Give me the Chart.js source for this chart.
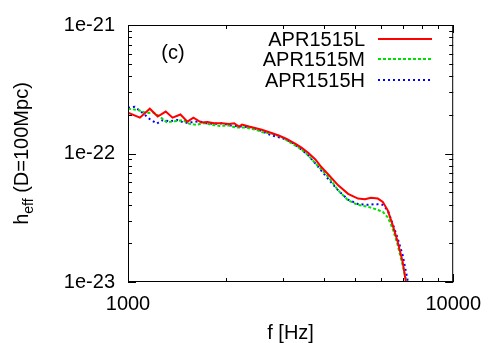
<!DOCTYPE html>
<html>
<head>
<meta charset="utf-8">
<script src="https://cdn.jsdelivr.net/npm/chart.js@4.4.0/dist/chart.umd.min.js"></script>
<style>
  html, body { margin: 0; padding: 0; background: #fff; }
</style>
</head>
<body>
<canvas id="myChart" width="491" height="343"></canvas>
<script>
// Data (f in Hz, h_eff at D=100Mpc)
const freqL = [1000, 1088, 1167, 1234, 1306, 1371, 1450, 1523, 1589, 1681, 1754, 1842, 1948, 2046, 2120, 2195, 2242, 2355, 2580, 2748, 2907, 3075, 3275, 3416, 3588, 3769, 3931, 4130, 4430, 4752, 5097, 5354, 5585, 5866, 6075, 6292, 6516, 6749, 6990, 7139, 7190];
const hL = [2.08e-22, 1.90e-22, 2.23e-22, 1.94e-22, 2.12e-22, 1.90e-22, 2.01e-22, 1.77e-22, 1.90e-22, 1.74e-22, 1.76e-22, 1.72e-22, 1.72e-22, 1.70e-22, 1.72e-22, 1.62e-22, 1.68e-22, 1.62e-22, 1.53e-22, 1.45e-22, 1.38e-22, 1.30e-22, 1.19e-22, 1.11e-22, 1.01e-22, 8.98e-23, 7.85e-23, 6.87e-23, 5.65e-23, 4.85e-23, 4.46e-23, 4.40e-23, 4.53e-23, 4.46e-23, 4.20e-23, 3.61e-23, 2.77e-23, 2.06e-23, 1.44e-23, 1.04e-23, 9.4e-24];

const freqM = [1000, 1073, 1143, 1192, 1252, 1315, 1391, 1472, 1545, 1623, 1717, 1816, 1908, 2046, 2149, 2305, 2474, 2580, 2768, 2969, 3184, 3393, 3588, 3796, 4045, 4188, 4430, 4752, 5097, 5469, 5784, 6075, 6292, 6516, 6749, 6990, 7139, 7190];
const hM = [2.23e-22, 2.18e-22, 2.06e-22, 2.09e-22, 1.94e-22, 1.75e-22, 1.78e-22, 1.82e-22, 1.70e-22, 1.67e-22, 1.73e-22, 1.67e-22, 1.64e-22, 1.65e-22, 1.59e-22, 1.59e-22, 1.53e-22, 1.47e-22, 1.43e-22, 1.34e-22, 1.20e-22, 1.09e-22, 9.65e-23, 8.22e-23, 6.98e-23, 6.27e-23, 5.16e-23, 4.32e-23, 3.98e-23, 3.85e-23, 3.68e-23, 3.52e-23, 3.18e-23, 2.60e-23, 1.94e-23, 1.35e-23, 1.07e-23, 9.6e-24];

const freqH = [1000, 1050, 1103, 1167, 1226, 1279, 1343, 1420, 1492, 1567, 1658, 1741, 1842, 1948, 2075, 2226, 2405, 2580, 2768, 2969, 3162, 3345, 3588, 3849, 4073, 4430, 4752, 5097, 5469, 5784, 6075, 6292, 6516, 6749, 6990, 7240, 7342];
const hH = [2.27e-22, 2.31e-22, 2.09e-22, 1.85e-22, 1.71e-22, 1.82e-22, 1.78e-22, 1.82e-22, 1.73e-22, 1.75e-22, 1.78e-22, 1.72e-22, 1.70e-22, 1.72e-22, 1.65e-22, 1.62e-22, 1.60e-22, 1.49e-22, 1.38e-22, 1.32e-22, 1.24e-22, 1.12e-22, 9.65e-23, 7.85e-23, 6.60e-23, 5.16e-23, 4.37e-23, 4.04e-23, 3.99e-23, 4.04e-23, 3.99e-23, 3.61e-23, 2.84e-23, 2.19e-23, 1.62e-23, 1.04e-23, 9.4e-24];

const seriesNames = ['APR1515L', 'APR1515M', 'APR1515H'];
const xTicks = [1000, 10000];
const xTickLabels = ['1000', '10000'];
const yTicks = [1e-23, 1e-22, 1e-21];
const yTickLabels = ['1e-23', '1e-22', '1e-21'];

const FONT = '"Liberation Sans", Arial, sans-serif';
const FS = 20;

function pts(fs, hs) {
    return fs.map((f, i) => ({ x: f, y: hs[i] }));
}

// frame, inward ticks, legend and labels drawn like gnuplot
const decorations = {
    id: 'decorations',
    afterDraw(chart) {
        const { ctx, chartArea: a, scales: { x, y } } = chart;
        ctx.save();
        ctx.strokeStyle = '#000';
        ctx.lineWidth = 1;
        ctx.strokeRect(a.left + 0.5, a.top + 0.5, a.right - a.left - 1, a.bottom - a.top - 1);

        ctx.beginPath();
        // x ticks
        for (let d = 1000; d <= 10000; d *= 10) {
            for (let m = 1; m <= 9; m++) {
                const v = d * m;
                if (v > 10000) break;
                const px = Math.round(x.getPixelForValue(v)) + 0.5;
                const len = m === 1 ? 8 : 4;
                ctx.moveTo(px, a.bottom); ctx.lineTo(px, a.bottom - len);
                ctx.moveTo(px, a.top); ctx.lineTo(px, a.top + len);
            }
        }
        // y ticks
        for (let e = -23; e <= -21; e++) {
            for (let m = 1; m <= 9; m++) {
                const v = m * Math.pow(10, e);
                if (e === -21 && m > 1) break;
                const py = Math.round(y.getPixelForValue(v)) + 0.5;
                const len = m === 1 ? 8 : 4;
                ctx.moveTo(a.left, py); ctx.lineTo(a.left + len, py);
                ctx.moveTo(a.right, py); ctx.lineTo(a.right - len, py);
            }
        }
        ctx.stroke();

        // legend
        ctx.fillStyle = '#000';
        ctx.font = FS + 'px ' + FONT;
        ctx.textAlign = 'right';
        ctx.textBaseline = 'middle';
        const rows = [39, 59, 80];
        chart.data.datasets.forEach((ds, i) => {
            ctx.fillText(ds.label, 365, rows[i] + 1);
            ctx.save();
            ctx.strokeStyle = ds.borderColor;
            ctx.lineWidth = ds.borderWidth;
            ctx.setLineDash(ds.borderDash || []);
            ctx.beginPath();
            ctx.moveTo(378, rows[i]);
            ctx.lineTo(432, rows[i]);
            ctx.stroke();
            ctx.restore();
        });

        // (c)
        ctx.textAlign = 'center';
        ctx.fillText('(c)', 173, 53);

        // x title
        ctx.fillText('f [Hz]', (a.left + a.right) / 2, 333);

        // y title with subscript
        ctx.save();
        ctx.translate(21, (a.top + a.bottom) / 2);
        ctx.rotate(-Math.PI / 2);
        ctx.textAlign = 'left';
        ctx.textBaseline = 'alphabetic';
        const big = FS + 'px ' + FONT;
        const small = '14px ' + FONT;
        ctx.font = big;
        const w1 = ctx.measureText('h').width;
        const w3 = ctx.measureText(' (D=100Mpc)').width;
        ctx.font = small;
        const w2 = ctx.measureText('eff').width;
        let sx = -(w1 + w2 + w3) / 2;
        const base = 7;
        ctx.font = big;
        ctx.fillText('h', sx, base);
        sx += w1;
        ctx.font = small;
        ctx.fillText('eff', sx, base + 5);
        sx += w2;
        ctx.font = big;
        ctx.fillText(' (D=100Mpc)', sx, base);
        ctx.restore();

        ctx.restore();
    }
};

const chart = new Chart(document.getElementById('myChart'), {
    type: 'line',
    data: {
        datasets: [
            { label: seriesNames[0], data: pts(freqL, hL), borderColor: '#ff0000', borderWidth: 2, pointRadius: 0, tension: 0 },
            { label: seriesNames[1], data: pts(freqM, hM), borderColor: '#00e000', borderWidth: 2, borderDash: [3, 2], pointRadius: 0, tension: 0 },
            { label: seriesNames[2], data: pts(freqH, hH), borderColor: '#0000ff', borderWidth: 2, borderDash: [2, 3], pointRadius: 0, tension: 0 }
        ]
    },
    options: {
        responsive: false,
        animation: false,
        layout: { padding: { top: 24, right: 35, left: 0, bottom: 0 } },
        plugins: { legend: { display: false }, tooltip: { enabled: false } },
        scales: {
            x: {
                type: 'logarithmic',
                min: 1000,
                max: 10000,
                afterBuildTicks: (s) => { s.ticks = xTicks.map(v => ({ value: v })); },
                afterFit: (s) => { s.height = 61; },
                grid: { display: false, drawTicks: false },
                border: { display: false },
                ticks: {
                    autoSkip: false,
                    maxRotation: 0,
                    padding: 10,
                    color: '#000',
                    font: { family: FONT, size: FS },
                    callback: (v) => xTickLabels[xTicks.indexOf(v)]
                }
            },
            y: {
                type: 'logarithmic',
                min: 1e-23,
                max: 1e-21,
                afterBuildTicks: (s) => { s.ticks = yTicks.map(v => ({ value: v })); },
                afterFit: (s) => { s.width = 128; },
                grid: { display: false, drawTicks: false },
                border: { display: false },
                ticks: {
                    autoSkip: false,
                    padding: 13,
                    color: '#000',
                    font: { family: FONT, size: FS },
                    callback: (v) => {
                        const i = yTicks.findIndex(t => Math.abs(Math.log10(t) - Math.log10(v)) < 1e-6);
                        return i >= 0 ? yTickLabels[i] : '';
                    }
                }
            }
        }
    },
    plugins: [decorations]
});
</script>
</body>
</html>
